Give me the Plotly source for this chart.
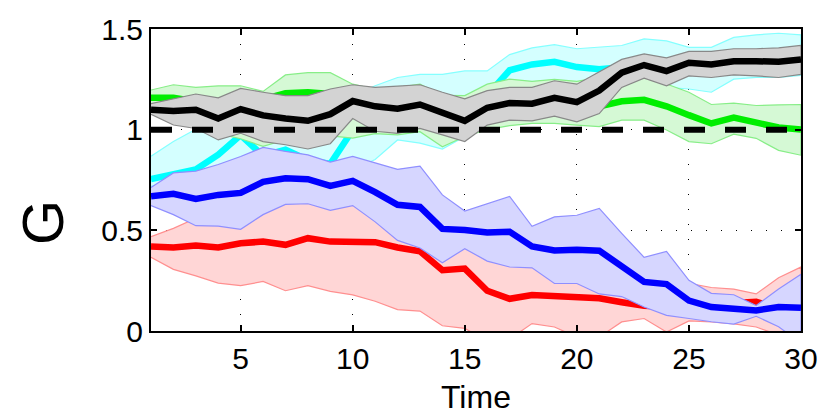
import plotly.graph_objects as go

t = list(range(1, 31))

# black (mean) with gray band
black_mid = [1.099, 1.093, 1.099, 1.055, 1.102, 1.071, 1.055, 1.044, 1.077, 1.142,
             1.116, 1.104, 1.125, 1.083, 1.044, 1.109, 1.132, 1.129, 1.158, 1.137,
             1.194, 1.283, 1.321, 1.291, 1.332, 1.324, 1.340, 1.340, 1.337, 1.348]
black_hi = [1.129, 1.153, 1.177, 1.158, 1.205, 1.186, 1.169, 1.169, 1.202, 1.223,
            1.210, 1.216, 1.223, 1.186, 1.153, 1.194, 1.210, 1.210, 1.243, 1.226,
            1.287, 1.349, 1.376, 1.357, 1.389, 1.389, 1.402, 1.402, 1.406, 1.419]
black_lo = [1.076, 1.023, 1.006, 0.949, 0.982, 0.941, 0.925, 0.904, 0.930, 1.055,
            0.992, 0.982, 1.006, 0.974, 0.941, 1.023, 1.047, 1.044, 1.067, 1.039,
            1.080, 1.210, 1.256, 1.218, 1.267, 1.259, 1.272, 1.267, 1.259, 1.275]

green_mid = [1.158, 1.158, 1.140, 1.120, 1.130, 1.150, 1.181, 1.186, 1.177, 1.150,
             1.100, 1.100, 1.120, 1.080, 1.050, 1.080, 1.100, 1.100, 1.100, 1.090,
             1.112, 1.141, 1.148, 1.116, 1.072, 1.031, 1.060, 1.039, 1.011, 1.001]
green_hi = [1.197, 1.223, 1.210, 1.218, 1.218, 1.190, 1.272, 1.283, 1.283, 1.226,
            1.200, 1.210, 1.226, 1.170, 1.169, 1.226, 1.251, 1.240, 1.250, 1.240,
            1.260, 1.280, 1.280, 1.227, 1.186, 1.125, 1.132, 1.120, 1.123, 1.125]
green_lo = [1.090, 1.050, 1.030, 0.980, 0.955, 0.917, 0.950, 0.980, 0.970, 0.958,
            0.980, 0.974, 0.990, 0.915, 0.966, 1.000, 1.020, 1.031, 1.031, 1.023,
            1.015, 1.047, 1.047, 0.998, 0.941, 0.930, 0.978, 0.957, 0.897, 0.873]

cyan_mid = [0.754, 0.778, 0.802, 0.876, 0.973, 0.870, 0.900, 0.850, 0.830, 0.998,
            1.050, 1.080, 1.100, 1.100, 1.120, 1.170, 1.295, 1.324, 1.337, 1.311,
            1.300, 1.310, 1.330, 1.320, 1.330, 1.330, 1.340, 1.340, 1.340, 1.350]
cyan_hi = [0.868, 0.941, 1.002, 1.050, 1.100, 1.100, 1.100, 1.100, 1.120, 1.170,
           1.218, 1.259, 1.275, 1.275, 1.292, 1.292, 1.373, 1.406, 1.422, 1.402,
           1.409, 1.418, 1.451, 1.441, 1.409, 1.409, 1.458, 1.471, 1.479, 1.471]
cyan_lo = [0.720, 0.720, 0.740, 0.760, 0.800, 0.780, 0.760, 0.740, 0.740, 0.800,
           0.852, 0.949, 0.933, 0.904, 0.966, 1.050, 1.120, 1.150, 1.150, 1.150,
           1.150, 1.180, 1.200, 1.210, 1.202, 1.186, 1.251, 1.260, 1.260, 1.270]

blue_mid = [0.669, 0.681, 0.656, 0.676, 0.686, 0.741, 0.759, 0.754, 0.721, 0.746,
            0.690, 0.627, 0.616, 0.507, 0.502, 0.489, 0.493, 0.420, 0.400, 0.404,
            0.399, 0.323, 0.244, 0.233, 0.151, 0.119, 0.110, 0.102, 0.119, 0.115]
blue_hi = [0.713, 0.785, 0.794, 0.827, 0.867, 0.912, 0.892, 0.875, 0.839, 0.867,
           0.835, 0.803, 0.819, 0.676, 0.596, 0.632, 0.668, 0.520, 0.567, 0.575,
           0.609, 0.485, 0.366, 0.395, 0.252, 0.187, 0.180, 0.127, 0.209, 0.282]
blue_lo = [0.623, 0.578, 0.523, 0.521, 0.505, 0.578, 0.629, 0.632, 0.599, 0.623,
           0.542, 0.450, 0.412, 0.339, 0.409, 0.347, 0.318, 0.314, 0.236, 0.236,
           0.184, 0.171, 0.119, 0.078, 0.062, 0.046, 0.034, 0.073, 0.021, -0.060]

red_mid = [0.420, 0.415, 0.425, 0.415, 0.436, 0.444, 0.428, 0.461, 0.444, 0.444,
           0.441, 0.415, 0.396, 0.302, 0.310, 0.200, 0.160, 0.179, 0.176, 0.171,
           0.163, 0.143, 0.125, 0.120, 0.125, 0.130, 0.135, 0.145, 0.110, 0.110]
red_hi = [0.469, 0.510, 0.560, 0.590, 0.600, 0.620, 0.650, 0.660, 0.640, 0.650,
          0.580, 0.500, 0.450, 0.350, 0.420, 0.360, 0.330, 0.320, 0.260, 0.250,
          0.230, 0.200, 0.180, 0.200, 0.236, 0.216, 0.208, 0.184, 0.265, 0.318]
red_lo = [0.366, 0.306, 0.274, 0.238, 0.225, 0.246, 0.200, 0.225, 0.197, 0.179,
          0.148, 0.106, 0.099, 0.026, 0.013, -0.050, -0.040, 0.037, 0.020, -0.030,
          -0.030, 0.045, 0.062, -0.005, 0.050, 0.045, 0.035, 0.020, -0.020, -0.080]

ref_level = [1.0, 1.0]
ref_x = [1, 30]

x_ticks = [5, 10, 15, 20, 25, 30]
y_ticks = [0, 0.5, 1, 1.5]
y_tick_text = ["0", "0.5", "1", "1.5"]

series = [
    (cyan_mid, cyan_hi, cyan_lo, "#00ffff", "#d4ffff", "#85ffff"),
    (green_mid, green_hi, green_lo, "#00ee00", "#d5f9d5", "#88ee88"),
    (red_mid, red_hi, red_lo, "#ff0000", "#ffd6d6", "#ff8f8f"),
    (blue_mid, blue_hi, blue_lo, "#0000ff", "#d6d6ff", "#8f8fff"),
    (black_mid, black_hi, black_lo, "#000000", "#d3d3d3", "#888888"),
]

fig = go.Figure()
for mid, hi, lo, lc, fc, ec in series:
    fig.add_trace(go.Scatter(
        x=t + t[::-1], y=hi + lo[::-1], mode="lines", fill="toself",
        fillcolor=fc, line=dict(color=ec, width=1.2), hoverinfo="skip",
        showlegend=False))
    fig.add_trace(go.Scatter(
        x=t, y=mid, mode="lines", line=dict(color=lc, width=6.5),
        showlegend=False))

fig.add_trace(go.Scatter(
    x=ref_x, y=ref_level, mode="lines",
    line=dict(color="black", width=6, dash="21px,20px"), showlegend=False))

axis_common = dict(
    showline=True, linecolor="black", linewidth=2, mirror="ticks",
    ticks="inside", ticklen=6, tickwidth=1.5, tickcolor="black",
    showgrid=True, gridcolor="black", gridwidth=1, griddash="1px,14px",
    zeroline=False,
    tickfont=dict(family="Liberation Sans, Arial, sans-serif", size=30, color="black"),
)

fig.update_layout(
    width=830, height=417,
    margin=dict(l=151, r=23, t=24, b=86),
    paper_bgcolor="white", plot_bgcolor="white",
    xaxis=dict(range=[1, 30], tickvals=x_ticks, **axis_common),
    yaxis=dict(range=[0, 1.5], tickvals=y_ticks, ticktext=y_tick_text, **axis_common),
    annotations=[
        dict(text="Time", xref="paper", yref="paper", x=0.5, y=-0.218,
             showarrow=False, xanchor="center", yanchor="middle",
             font=dict(family="Liberation Sans, Arial, sans-serif", size=32, color="black")),
        dict(text="G", xref="paper", yref="paper", x=-0.166, y=0.358,
             showarrow=False, xanchor="center", yanchor="middle", textangle=-90,
             font=dict(family="Liberation Sans, Arial, sans-serif", size=58, color="black")),
    ],
)

fig.write_html("out.html")
